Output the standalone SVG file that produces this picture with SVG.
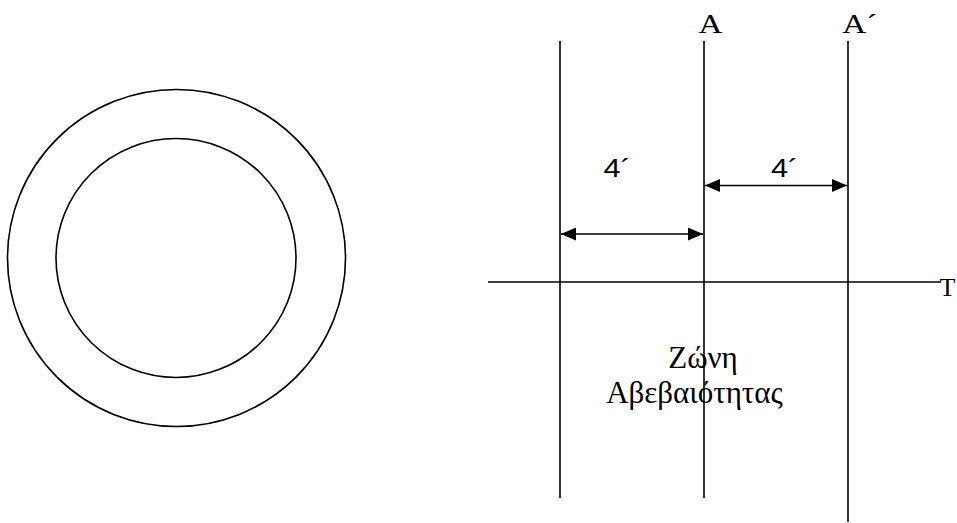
<svg xmlns="http://www.w3.org/2000/svg" width="957" height="523" viewBox="0 0 957 523">
<style>
.ln{stroke:#000;stroke-width:1.6;fill:none}
.t{font-family:"Liberation Serif","Times New Roman",serif;font-size:27px;fill:#000}
.s{font-family:"Liberation Sans",Arial,sans-serif;font-size:25px;fill:#000}
.g{font-family:"Liberation Serif","Times New Roman",serif;font-size:31px;fill:#000}
</style>
<defs>
<marker id="ah" viewBox="0 0 15 13" refX="15" refY="6.5" markerWidth="15" markerHeight="13" markerUnits="userSpaceOnUse" orient="auto-start-reverse">
<path d="M0,0 L15,6.5 L0,13 z" fill="#000"/>
</marker>
</defs>
<rect width="957" height="523" fill="#fff"/>
<g id="circles">
<ellipse class="ln" cx="176.5" cy="258" rx="169" ry="168.5"/>
<ellipse class="ln" cx="176" cy="258" rx="120" ry="119.5"/>
</g>
<g id="lines">
<line class="ln" x1="560" y1="41" x2="560" y2="498"/>
<line class="ln" x1="704" y1="41" x2="704" y2="498"/>
<line class="ln" x1="848" y1="41" x2="848" y2="522"/>
<line class="ln" x1="488" y1="282" x2="940" y2="282"/>
</g>
<g id="connectors">
<line class="ln" x1="561" y1="234" x2="703" y2="234" marker-start="url(#ah)" marker-end="url(#ah)"/>
<line class="ln" x1="705" y1="185.5" x2="847" y2="185.5" marker-start="url(#ah)" marker-end="url(#ah)"/>
</g>
<g id="labels">
<text class="t" transform="translate(698.5,33.3) scale(1.23,1)">A</text>
<text class="t" transform="translate(842.3,33.3) scale(1.23,1)">A´</text>
<text class="s" transform="translate(603.5,176.7) scale(1.23,1)">4´</text>
<text class="s" transform="translate(771,176.7) scale(1.23,1)">4´</text>
<text class="t" x="939.5" y="296" style="font-size:26px">T</text>
<text class="g" x="703" y="368.3" text-anchor="middle">Ζώνη</text>
<text class="g" x="694.5" y="403" text-anchor="middle">Αβεβαιότητας</text>
</g>
</svg>
